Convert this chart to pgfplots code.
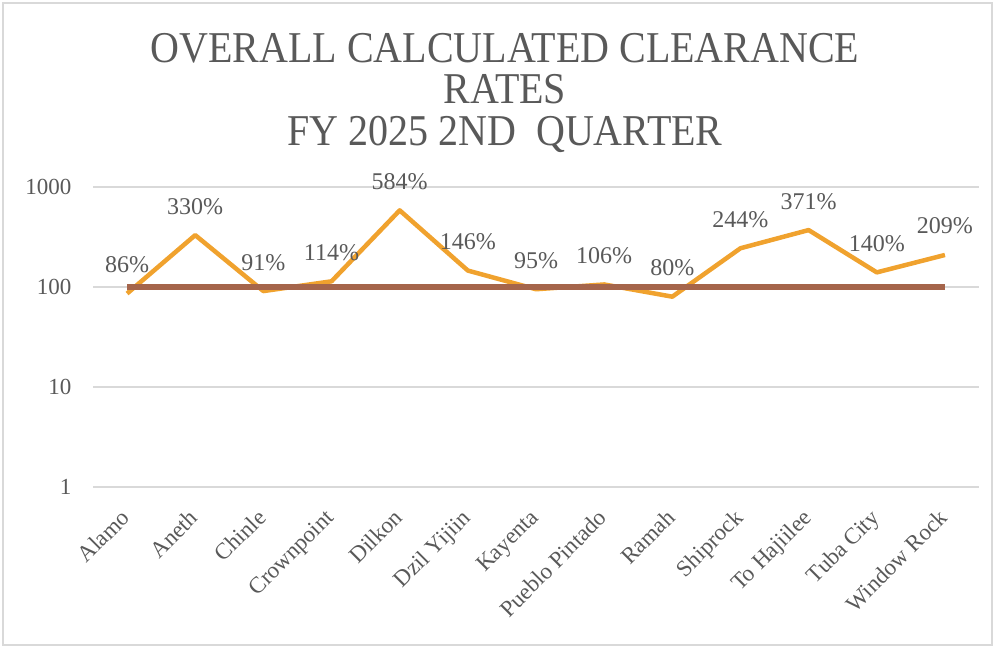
\documentclass[border=0pt]{standalone}
\usepackage{fontspec}
\setmainfont{Liberation Serif}
\usepackage{pgfplots}
\pgfplotsset{compat=1.18}
\definecolor{txt}{HTML}{595959}
\definecolor{orng}{HTML}{F0A22E}
\definecolor{brwn}{HTML}{A5654B}
\definecolor{grd}{HTML}{D9D9D9}
\begin{document}
\begin{tikzpicture}
\useasboundingbox (0pt,0pt) rectangle (995pt,648pt);
\draw[grd, line width=1.2pt] (3pt,3pt) rectangle (992pt,645pt);
\node[txt, font=\fontsize{40}{38}\selectfont, align=center, anchor=center, yscale=1.1] at (505pt,555pt) {OVERALL CALCULATED CLEARANCE\\RATES\\FY 2025 2ND\ \ QUARTER};
\begin{axis}[
  at={(93pt,161pt)}, anchor=south west,
  width=886pt, height=300pt, scale only axis,
  ymode=log, ymin=1, ymax=1000,
  xmin=-0.5, xmax=12.5,
  ytick={1,10,100,1000},
  yticklabels={1,10,100,1000},
  xtick={0,...,12},
  xticklabels={Alamo,Aneth,Chinle,Crownpoint,Dilkon,Dzil Yijiin,Kayenta,Pueblo Pintado,Ramah,Shiprock,To Hajiilee,Tuba City,Window Rock},
  x tick label style={rotate=45, anchor=north east, font=\fontsize{23}{25}\selectfont, text=txt, xshift=-20pt, yshift=-9.5pt, inner sep=0pt},
  y tick label style={font=\fontsize{23}{25}\selectfont, text=txt, xshift=-18pt},
  major tick length=0pt, minor tick length=0pt,
  yminorticks=false, xminorticks=false,
  ymajorgrids, major grid style={grd, line width=1.2pt},
  axis line style={draw=none},
  clip=false,
]
\addplot[orng, line width=4.5pt, line join=round,
  nodes near coords, point meta=explicit symbolic,
  every node near coord/.style={text=txt, font=\fontsize{24}{26}\selectfont, anchor=base, yshift=21pt}]
coordinates {
(0,86) [86\%]
(1,330) [330\%]
(2,91) [91\%]
(3,114) [114\%]
(4,584) [584\%]
(5,146) [146\%]
(6,95) [95\%]
(7,106) [106\%]
(8,80) [80\%]
(9,244) [244\%]
(10,371) [371\%]
(11,140) [140\%]
(12,209) [209\%]
};
\addplot[brwn, line width=5.5pt] coordinates {
(0,100) (1,100) (2,100) (3,100) (4,100) (5,100) (6,100) (7,100) (8,100) (9,100) (10,100) (11,100) (12,100)
};
\end{axis}
\end{tikzpicture}
\end{document}
